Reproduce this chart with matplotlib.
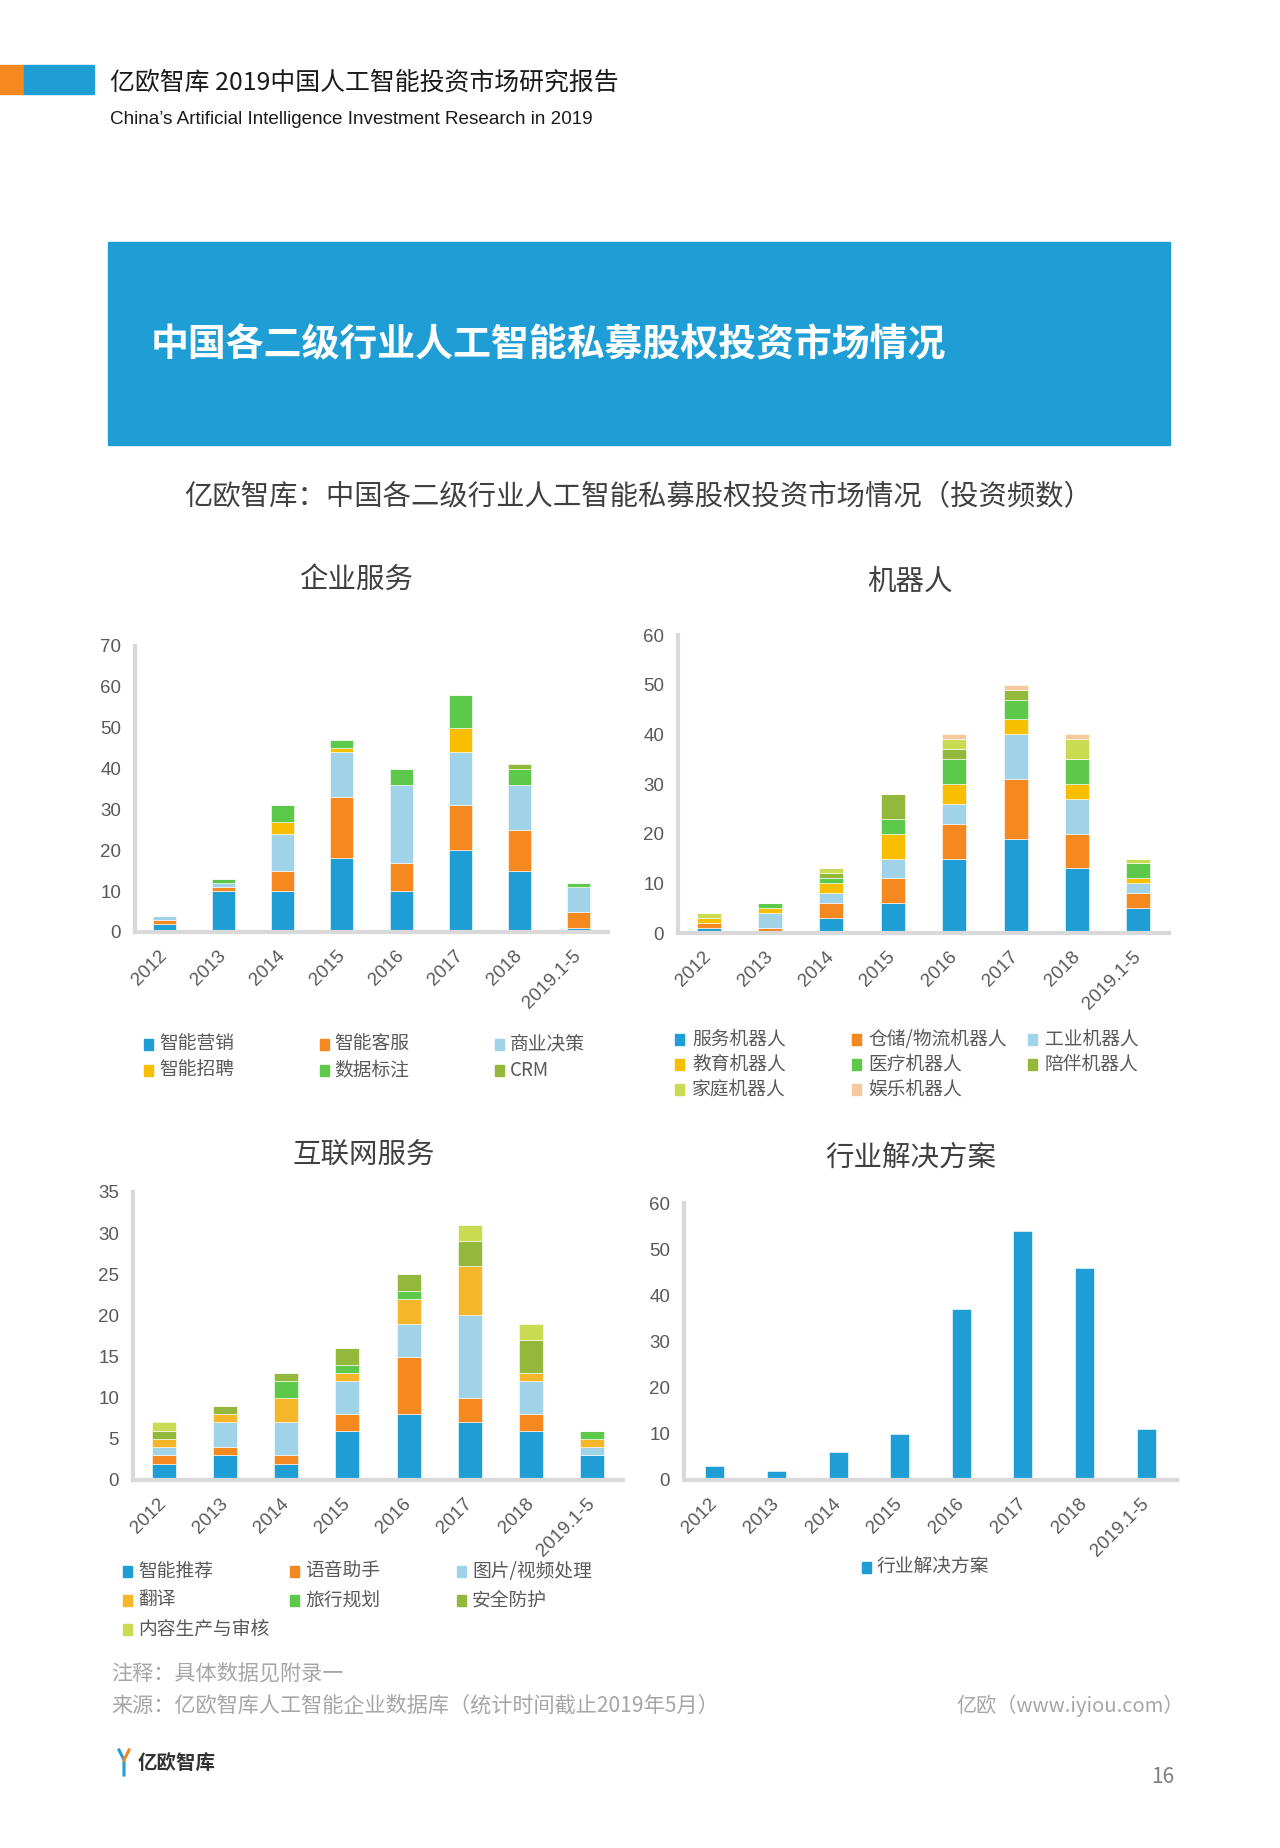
import matplotlib
matplotlib.use("Agg")
import matplotlib.pyplot as plt
from matplotlib.patches import Rectangle
import numpy as np

plt.rcParams['font.family'] = ['Noto Sans CJK SC', 'DejaVu Sans']

# ---- 数据 ----
years = ['2012', '2013', '2014', '2015', '2016', '2017', '2018', '2019.1-5']

qy_names = ['智能营销', '智能客服', '商业决策', '智能招聘', '数据标注', 'CRM']
qy_vals = [
    [2, 10, 10, 18, 10, 20, 15, 1],
    [1, 1, 5, 15, 7, 11, 10, 4],
    [1, 1, 9, 11, 19, 13, 11, 6],
    [0, 0, 3, 1, 0, 6, 0, 0],
    [0, 1, 4, 2, 4, 8, 4, 1],
    [0, 0, 0, 0, 0, 0, 1, 0],
]

jqr_names = ['服务机器人', '仓储/物流机器人', '工业机器人', '教育机器人',
             '医疗机器人', '陪伴机器人', '家庭机器人', '娱乐机器人']
jqr_vals = [
    [1, 0, 3, 6, 15, 19, 13, 5],
    [1, 1, 3, 5, 7, 12, 7, 3],
    [0, 3, 2, 4, 4, 9, 7, 2],
    [1, 1, 2, 5, 4, 3, 3, 1],
    [0, 1, 1, 3, 5, 4, 5, 3],
    [0, 0, 1, 5, 2, 2, 0, 0],
    [1, 0, 1, 0, 2, 0, 4, 1],
    [0, 0, 0, 0, 1, 1, 1, 0],
]

hlw_names = ['智能推荐', '语音助手', '图片/视频处理', '翻译', '旅行规划', '安全防护', '内容生产与审核']
hlw_vals = [
    [2, 3, 2, 6, 8, 7, 6, 3],
    [1, 1, 1, 2, 7, 3, 2, 0],
    [1, 3, 4, 4, 4, 10, 4, 1],
    [1, 1, 3, 1, 3, 6, 1, 1],
    [0, 0, 2, 1, 1, 0, 0, 1],
    [1, 1, 1, 2, 2, 3, 4, 0],
    [1, 0, 0, 0, 0, 2, 2, 0],
]

hy_names = ['行业解决方案']
hy_vals = [[3, 2, 6, 10, 37, 54, 46, 11]]

# 颜色
BLUE = '#1F9ED5'
ORANGE = '#F5891F'
LBLUE = '#A0D2E8'
YELLOW = '#F7BF00'
GREEN = '#5CC94B'
OLIVE = '#94B83B'
YGREEN = '#C8DB52'
PEACH = '#F6C99C'
TRANS = '#F6B62A'

qy_colors = [BLUE, ORANGE, LBLUE, YELLOW, GREEN, OLIVE]
jqr_colors = [BLUE, ORANGE, LBLUE, YELLOW, GREEN, OLIVE, YGREEN, PEACH]
hlw_colors = [BLUE, ORANGE, LBLUE, TRANS, GREEN, OLIVE, YGREEN]
hy_colors = [BLUE]

W, H = 1280, 1848
fig = plt.figure(figsize=(W / 100, H / 100), dpi=100)


def fx(x):
    return x / W


def fy(y):
    return 1 - y / H


def add_ax(x0, y0, x1, y1):
    return fig.add_axes([fx(x0), fy(y1), (x1 - x0) / W, (y1 - y0) / H])


AXC = '#D9D9D9'
TXT = '#595959'


def draw_chart(ax, names, vals, colors, ymax, ystep, width):
    x = np.arange(len(years))
    bottom = np.zeros(len(years))
    for name, v, c in zip(names, vals, colors):
        v = np.array(v, dtype=float)
        ax.bar(x, v, width, bottom=bottom, color=c, edgecolor='white',
               linewidth=0.4, label=name, zorder=2)
        bottom += v
    ax.set_xlim(-0.5, len(years) - 0.5)
    ax.set_ylim(0, ymax)
    ax.set_yticks(np.arange(0, ymax + 0.1, ystep))
    ax.set_xticks(x)
    ax.set_xticklabels(years)
    for s in ['top', 'right']:
        ax.spines[s].set_visible(False)
    for s in ['left', 'bottom']:
        ax.spines[s].set_color(AXC)
        ax.spines[s].set_linewidth(3)
        ax.spines[s].set_zorder(3)
    ax.tick_params(axis='both', length=0, colors=TXT, labelsize=13.5)
    ax.tick_params(axis='y', pad=10)
    ax.tick_params(axis='x', pad=15)
    for lab in ax.get_yticklabels() + ax.get_xticklabels():
        lab.set_fontfamily('Liberation Sans')
    plt.setp(ax.get_xticklabels(), rotation=45, ha='right', va='center',
             rotation_mode='anchor')


def draw_legend(names, colors, x0, y0, colw, rowh, ncol, off=15):
    for i, (n, c) in enumerate(zip(names, colors)):
        r, k = divmod(i, ncol)
        xs = x0 + k * colw
        ys = y0 + r * rowh
        fig.patches.append(Rectangle((fx(xs), fy(ys + 5.5)), 9 / W, 11 / H,
                                     transform=fig.transFigure, color=c))
        fig.text(fx(xs + off), fy(ys), n, fontsize=13.5, color=TXT,
                 ha='left', va='center')


# ---- 页眉 ----
fig.patches.append(Rectangle((0, fy(94)), 23 / W, 29 / H, transform=fig.transFigure,
                             color='#F5891F'))
fig.patches.append(Rectangle((fx(24), fy(94)), 70 / W, 29 / H, transform=fig.transFigure,
                             color='#1F9ED5'))
fig.text(fx(110), fy(83), '亿欧智库 2019中国人工智能投资市场研究报告', fontsize=17.9,
         color='#1A1A1A', ha='left', va='center')
fig.text(fx(110), fy(119), 'China\u2019s Artificial Intelligence Investment Research in 2019',
         fontsize=13.6, color='#1A1A1A', ha='left', va='center', family='Liberation Sans')

# 标题横幅
fig.patches.append(Rectangle((fx(108), fy(445)), (1170 - 108) / W, (445 - 242) / H,
                             transform=fig.transFigure, color='#1F9DD5'))
fig.text(fx(151), fy(345), '中国各二级行业人工智能私募股权投资市场情况', fontsize=27.3,
         color='white', fontweight='bold', ha='left', va='center')

fig.text(fx(638), fy(497), '亿欧智库：中国各二级行业人工智能私募股权投资市场情况（投资频数）',
         fontsize=20.4, color='#404040', ha='center', va='center')

# 子图标题
fig.text(fx(356), fy(580), '企业服务', fontsize=20.5, color='#404040', ha='center', va='center')
fig.text(fx(910), fy(582), '机器人', fontsize=20.5, color='#404040', ha='center', va='center')
fig.text(fx(364), fy(1156), '互联网服务', fontsize=20.5, color='#404040', ha='center', va='center')
fig.text(fx(911), fy(1158), '行业解决方案', fontsize=20.5, color='#404040', ha='center', va='center')

# ---- 图表 ----
ax1 = add_ax(135, 646, 608, 932)
draw_chart(ax1, qy_names, qy_vals, qy_colors, 70, 10, 0.39)
draw_legend(qy_names, qy_colors, 144, 1044, 175.5, 26, 3)

ax2 = add_ax(678, 635, 1169, 933)
draw_chart(ax2, jqr_names, jqr_vals, jqr_colors, 60, 10, 0.39)
draw_legend(jqr_names, jqr_colors, 675, 1039, 176.5, 25, 3, off=17)

ax3 = add_ax(133, 1192, 623, 1480)
draw_chart(ax3, hlw_names, hlw_vals, hlw_colors, 35, 5, 0.39)
draw_legend(hlw_names, hlw_colors, 123, 1571, 167, 29, 3)

ax4 = add_ax(684, 1203, 1177, 1480)
draw_chart(ax4, hy_names, hy_vals, hy_colors, 60, 10, 0.31)
draw_legend(hy_names, hy_colors, 862, 1567, 170, 29, 1)

# ---- 页脚 ----
GRAY = '#A6A6A6'
fig.text(fx(111), fy(1673), '注释：具体数据见附录一', fontsize=15.2, color=GRAY,
         ha='left', va='center')
fig.text(fx(111), fy(1706), '来源：亿欧智库人工智能企业数据库（统计时间截止2019年5月）',
         fontsize=15.2, color=GRAY, ha='left', va='center')
fig.text(fx(1184), fy(1706), '亿欧（www.iyiou.com）', fontsize=14.5, color=GRAY,
         ha='right', va='center')

# logo
fig.lines.append(plt.Line2D([fx(119), fx(124), fx(124)], [fy(1750), fy(1760), fy(1775)],
                            transform=fig.transFigure, color='#1F9ED5', linewidth=2.2))
fig.lines.append(plt.Line2D([fx(129), fx(124)], [fy(1750), fy(1760)],
                            transform=fig.transFigure, color='#F5891F', linewidth=2.2))
fig.text(fx(138), fy(1763), '亿欧智库', fontsize=14, color='#333333', fontweight='bold',
         ha='left', va='center')
fig.text(fx(1174), fy(1777), '16', fontsize=15, color='#808080', ha='right', va='center')

fig.savefig('out.png', dpi=100)
